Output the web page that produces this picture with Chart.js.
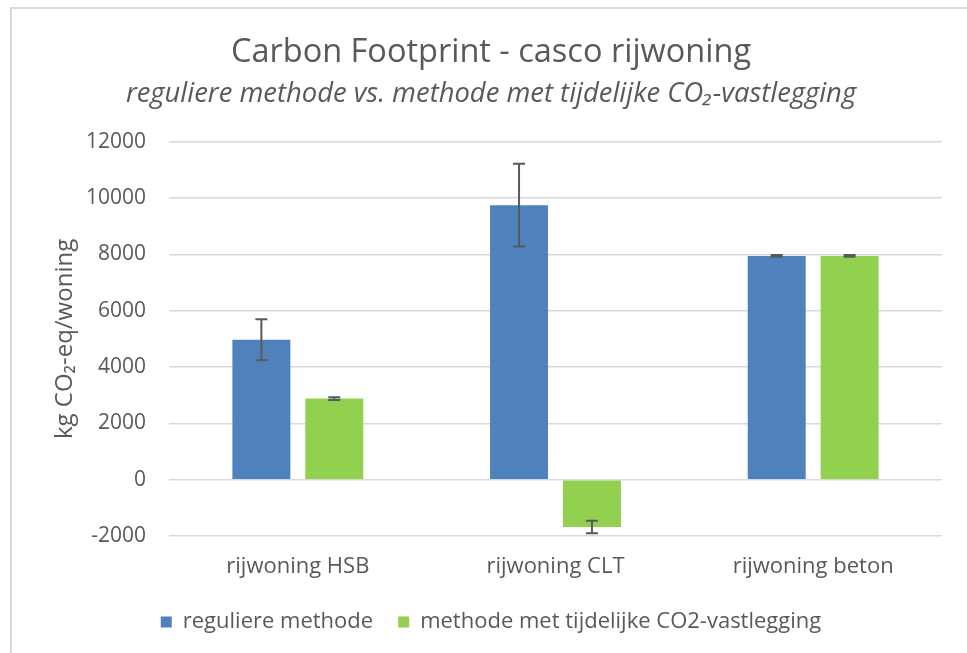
<!DOCTYPE html>
<html>
<head>
<meta charset="utf-8">
<script src="https://cdn.jsdelivr.net/npm/chart.js@4"></script>
<style>
  body { margin: 0; background: #fff; }
  #wrap { position: relative; width: 967px; height: 653px; overflow: hidden; }
  #frame { position: absolute; left: 10px; top: 7px; width: 1000px; height: 700px;
           border-left: 2px solid #D9D9D9; border-top: 2px solid #D9D9D9; }
  #chartId { position: absolute; left: 0; top: 0; }
</style>
</head>
<body>
<div id="wrap">
  <div id="frame"></div>
  <canvas id="chartId" width="967" height="653"></canvas>
</div>
<script>
const CATEGORIES = ['rijwoning HSB', 'rijwoning CLT', 'rijwoning beton']

// kg CO2-eq/woning
const REGULIER = [4970, 9750, 7950]
const REGULIER_ERR = [730, 1470, 30]
const TIJDELIJK = [2880, -1680, 7950]
const TIJDELIJK_ERR = [50, 220, 30]

const Y_MIN = -2000
const Y_MAX = 12000
const Y_STEP = 2000

const TEXT = '#595959'
const FONT = "'Open Sans', sans-serif"

// error bars, drawn through the y scale
const errorBars = {
  id: 'errorBars',
  afterDatasetsDraw(chart) {
    const ctx = chart.ctx
    const yScale = chart.scales.y
    chart.data.datasets.forEach((ds, i) => {
      const meta = chart.getDatasetMeta(i)
      meta.data.forEach((bar, j) => {
        const v = ds.data[j]
        const e = ds.errors[j]
        const yTop = yScale.getPixelForValue(v + e)
        const yBot = yScale.getPixelForValue(v - e)
        ctx.save()
        ctx.strokeStyle = '#595959'
        ctx.lineWidth = 2
        ctx.beginPath()
        ctx.moveTo(bar.x, yTop)
        ctx.lineTo(bar.x, yBot)
        ctx.moveTo(bar.x - 6, yTop)
        ctx.lineTo(bar.x + 6, yTop)
        ctx.moveTo(bar.x - 6, yBot)
        ctx.lineTo(bar.x + 6, yBot)
        ctx.stroke()
        ctx.restore()
      })
    })
  }
}

const chart = new Chart(document.getElementById('chartId'), {
  type: 'bar',
  data: {
    labels: CATEGORIES,
    datasets: [
      {
        label: 'reguliere methode',
        data: REGULIER,
        errors: REGULIER_ERR,
        backgroundColor: '#4F81BD'
      },
      {
        label: 'methode met tijdelijke CO2-vastlegging',
        data: TIJDELIJK,
        errors: TIJDELIJK_ERR,
        backgroundColor: '#92D050'
      }
    ]
  },
  options: {
    responsive: false,
    animation: false,
    categoryPercentage: 0.566,
    barPercentage: 0.795,
    layout: { padding: { left: 40, right: 25, top: 0, bottom: 10 } },
    plugins: {
      title: {
        display: true,
        text: 'Carbon Footprint - casco rijwoning',
        color: TEXT,
        font: { family: FONT, size: 32.5, weight: 'normal', lineHeight: 1.2 },
        padding: { top: 33.5, bottom: 5 }
      },
      subtitle: {
        display: true,
        text: 'reguliere methode vs. methode met tijdelijke CO\u2082-vastlegging',
        color: TEXT,
        font: { family: FONT, size: 27.4, style: 'italic', lineHeight: 1.2 },
        padding: { top: 0, bottom: 31.5 }
      },
      legend: {
        position: 'bottom',
        labels: {
          color: TEXT,
          font: { family: FONT, size: 22 },
          boxWidth: 11,
          boxHeight: 11,
          padding: 25
        }
      },
      tooltip: { enabled: false }
    },
    scales: {
      x: {
        grid: { display: false, drawTicks: false },
        border: { display: false },
        ticks: { color: TEXT, font: { family: FONT, size: 22 }, padding: 18 },
        afterFit(scale) { scale.height = 50 }
      },
      y: {
        min: Y_MIN,
        max: Y_MAX,
        grid: { color: '#D9D9D9', lineWidth: 1.5, drawTicks: false },
        border: { display: false },
        ticks: {
          stepSize: Y_STEP,
          color: TEXT,
          font: { family: FONT, size: 21 },
          padding: 23,
          callback: (v) => String(v)
        },
        title: {
          display: true,
          text: 'kg CO\u2082-eq/woning',
          color: TEXT,
          font: { family: FONT, size: 24 },
          padding: { top: 11, bottom: 0 }
        },
        afterFit(scale) { scale.width = 129 }
      }
    }
  },
  plugins: [errorBars]
})
</script>
</body>
</html>
